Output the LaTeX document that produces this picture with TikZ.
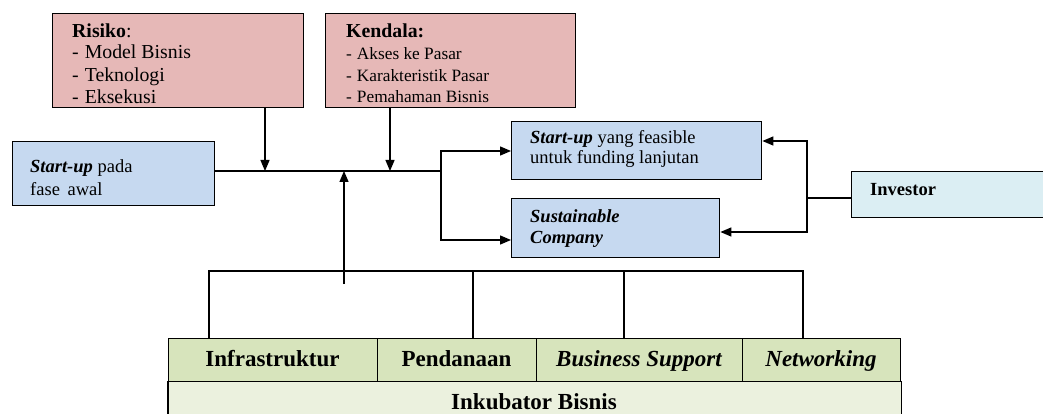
\documentclass[tikz,border=0pt]{standalone}
\usepackage{fontspec}
\setmainfont{Liberation Serif}
\usetikzlibrary{arrows.meta}
\definecolor{pinkf}{HTML}{E6B8B7}
\definecolor{bluef}{HTML}{C6D9F0}
\definecolor{invf}{HTML}{DBEEF3}
\definecolor{greenf}{HTML}{D7E4BC}
\definecolor{lgreenf}{HTML}{EBF1DE}
\begin{document}
\begin{tikzpicture}[x=1pt,y=-1pt,
  box/.style={draw, line width=1.4pt, inner sep=0pt, anchor=north west},
  txt/.style={inner sep=0pt, anchor=base west, font=\fontsize{18.5}{20}\selectfont},
  rtxt/.style={inner sep=0pt, anchor=base west, font=\fontsize{19.8}{21}\selectfont},
  stxt/.style={inner sep=0pt, anchor=base west, font=\fontsize{17.3}{18}\selectfont},
  btxt/.style={inner sep=0pt, anchor=base, font=\fontsize{23}{24}\selectfont\bfseries},
  conn/.style={line width=1.3pt},
  arr/.style={line width=1.3pt, -{Triangle[length=11pt,width=9pt]}}]
\useasboundingbox (0,0) rectangle (1043,414);

% boxes
\node[box, fill=pinkf, minimum width=251pt, minimum height=94pt] (risiko) at (52,13) {};
\node[box, fill=pinkf, minimum width=250pt, minimum height=94pt] (kendala) at (325,13) {};
\node[box, fill=bluef, minimum width=202pt, minimum height=64pt] (awal) at (12,141) {};
\node[box, fill=bluef, minimum width=250pt, minimum height=58pt] (feas) at (511,121) {};
\node[box, fill=bluef, minimum width=208pt, minimum height=59pt] (sust) at (511,198) {};
\node[box, fill=invf, minimum width=200pt, minimum height=46pt] (inv) at (851,171) {};

% bottom rows
\node[box, draw=none, fill=lgreenf, minimum width=732pt, minimum height=33pt] (ink) at (168,381) {};
\draw[line width=1.4pt] (ink.south west) -- (ink.north west) (ink.south east) -- (ink.north east);
\node[box, fill=greenf, minimum width=209pt, minimum height=43pt] (c1) at (168,338) {};
\node[box, fill=greenf, minimum width=159pt, minimum height=43pt] (c2) at (377,338) {};
\node[box, fill=greenf, minimum width=206pt, minimum height=43pt] (c3) at (536,338) {};
\node[box, fill=greenf, minimum width=158pt, minimum height=43pt] (c4) at (742,338) {};

% texts
\node[rtxt] (r1) at (72,38) {\textbf{Risiko}:};
\node[rtxt] (r2) at (72,59) {-\hspace{6pt}Model Bisnis};
\node[rtxt] (r3) at (72,82) {-\hspace{6pt}Teknologi};
\node[rtxt] (r4) at (72,104) {-\hspace{6pt}Eksekusi};
\node[rtxt] (k1) at (346,38) {\textbf{Kendala:}};
\node[stxt] (k2) at (346,60) {-\hspace{5pt}Akses ke Pasar};
\node[stxt] (k3) at (346,82) {-\hspace{5pt}Karakteristik Pasar};
\node[stxt] (k4) at (346,103) {-\hspace{5pt}Pemahaman Bisnis};
\node[txt] (a1) at (30,172) {\textbf{\textit{Start-up}} pada};
\node[txt] (a2) at (30,196) {fase\hspace{3pt} awal};
\node[txt] (f1) at (530,144) {\textbf{\textit{Start-up}} yang feasible};
\node[txt] (f2) at (530,164) {untuk funding lanjutan};
\node[txt] (s1) at (530,222) {\textbf{\textit{Sustainable}}};
\node[txt] (s2) at (530,243) {\textbf{\textit{Company}}};
\node[txt] (i1) at (870,196) {\textbf{Investor}};
\node[btxt] (t1) at (272.5,366) {Infrastruktur};
\node[btxt] (t2) at (456.5,366) {Pendanaan};
\node[btxt] (t3) at (639,366) {\itshape Business Support};
\node[btxt] (t4) at (821,366) {\itshape Networking};
\node[btxt] (t5) at (534,409) {Inkubator Bisnis};

% connectors
\coordinate (j1) at (265,171);
\coordinate (j2) at (390,171);
\coordinate (j3) at (344,171);
\coordinate (br) at (441,171);
\coordinate (up) at (344,284);
\draw[conn] (awal.east |- br) -- (br);
\draw[arr] (risiko.south -| j1) -- (j1);
\draw[arr] (kendala.south -| j2) -- (j2);
\draw[arr] (br) |- (feas.west |- 0,151);
\draw[arr] (br) |- (sust.west |- 0,240);
\draw[arr] (up) -- (j3);

\coordinate (iv) at (807,198);
\draw[conn] (inv.west |- iv) -- (iv);
\draw[arr] (iv) |- (feas.east |- 0,141);
\draw[arr] (iv) |- (sust.east |- 0,232);

\coordinate (b1) at (209,271);
\coordinate (b2) at (473,271);
\coordinate (b3) at (624,271);
\coordinate (b4) at (803,271);
\draw[conn] (c1.north -| b1) |- (b4) -- (c4.north -| b4);
\draw[conn] (b2) -- (c2.north -| b2);
\draw[conn] (b3) -- (c3.north -| b3);
\end{tikzpicture}
\end{document}
